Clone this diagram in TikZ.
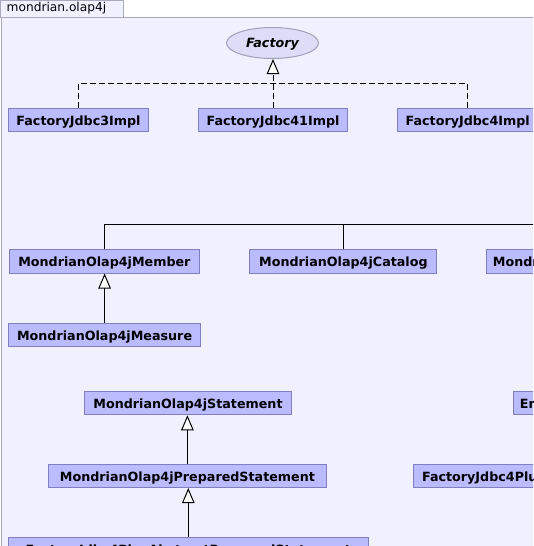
\documentclass[tikz,border=0pt]{standalone}
\usepackage{fontspec}
\setmainfont{DejaVu Sans}
\usetikzlibrary{arrows.meta,shapes.geometric}
\definecolor{framebg}{RGB}{240,240,255}
\definecolor{frameline}{RGB}{168,168,190}
\definecolor{classfill}{RGB}{187,187,255}
\definecolor{classline}{RGB}{128,128,192}
\definecolor{ifacefill}{RGB}{221,221,247}
\definecolor{ifaceline}{RGB}{160,160,185}

\begin{document}
\begin{tikzpicture} [
                x=1pt, y=-1pt,
                cls/.style={rectangle,draw=classline,fill=classfill,line width=1pt,inner ysep=0pt,inner xsep=6.5pt,
                    minimum height=23.5pt,text height=11pt,text depth=0.2pt,font=\fontsize{12.7}{14}\selectfont\bfseries},
                iface/.style={ellipse,draw=ifaceline,fill=ifacefill,line width=1pt,inner sep=0pt,
                    minimum width=92pt,minimum height=31pt,text height=10.4pt,text depth=1pt,
                    font=\fontsize{12.7}{14}\selectfont\bfseries\itshape},
                edge/.style = {draw,line width=1pt,-},
                realizeline/.style = {edge,dash pattern=on 6pt off 3pt},
                extends/.style = {edge,-{Triangle[length=15pt,width=12.5pt,fill=white,line width=1pt]}},
                realizes/.style = {extends,dash pattern=on 6pt off 3pt},
            ]
            \useasboundingbox (0,0) rectangle (533,546);
            \clip (0,0) rectangle (533,546);
            % package frame and tab
            \fill[framebg] (1,17) rectangle (560,560);
            \draw[frameline,line width=1pt] (1,560) -- (1,17) -- (560,17);
            \filldraw[fill=framebg,draw=frameline,line width=1pt] (0.5,0.5) rectangle (123,17);
            \node[anchor=west,inner sep=0pt,font=\fontsize{12.2}{14}\selectfont] (pkg) at (6.5,8.5) {mondrian.olap4j};

            \node[iface] (Factory) at (272.5,43) {Factory};
            \foreach \pos/\boxw/\name/\text in {
                    {(78.5,120)/140/jdbc3/FactoryJdbc3Impl},
                    {(273,120)/149/jdbc41/FactoryJdbc41Impl},
                    {(467.7,120)/141/jdbc4/FactoryJdbc4Impl},
                    {(104.4,261.3)/190.5/member/MondrianOlap4jMember},
                    {(343.4,261.3)/187/catalog/MondrianOlap4jCatalog},
                    {(104.6,335)/192/measure/MondrianOlap4jMeasure},
                    {(188,403)/207.5/statement/MondrianOlap4jStatement},
                    {(187.4,475.8)/278/prepared/MondrianOlap4jPreparedStatement},
                    {(188.3,549)/359.5/plusstmt/FactoryJdbc4PlusAbstractPreparedStatement}}
                \node[cls,minimum width=\boxw pt] (\name) at \pos {\text};
            % boxes running off the right edge
            \foreach \pos/\pad/\name/\text in {
                    {(486.4,261.3)/6/cube/MondrianOlap4jCube},
                    {(512.6,403)/6.8/emptyrs/EmptyResultSet},
                    {(412.6,475.8)/9/plusrs/FactoryJdbc4PlusAbstractEmptyResultSet}}
                \node[cls,anchor=west,inner xsep=\pad pt] (\name) at \pos {\text};

            % realization of Factory
            \coordinate (factorybus) at (0,83.3);
            \path[realizeline] (jdbc3.north) |- (factorybus -| jdbc4.north) -- (jdbc4.north);
            \path[realizes] (jdbc41.north) -- (jdbc41.north |- Factory.south);

            \coordinate (memberbus) at (0,224.3);
            \path[edge] (member.north) |- (memberbus -| cube.north) -- (cube.north);
            \path[edge] (catalog.north) -- (catalog.north |- memberbus);

            \foreach \source/ \dest in {
                    measure/member,prepared/statement,plusstmt/prepared}
                \path[extends] (\source.north) -- (\source.north |- \dest.south);
        \end{tikzpicture}
\end{document}
